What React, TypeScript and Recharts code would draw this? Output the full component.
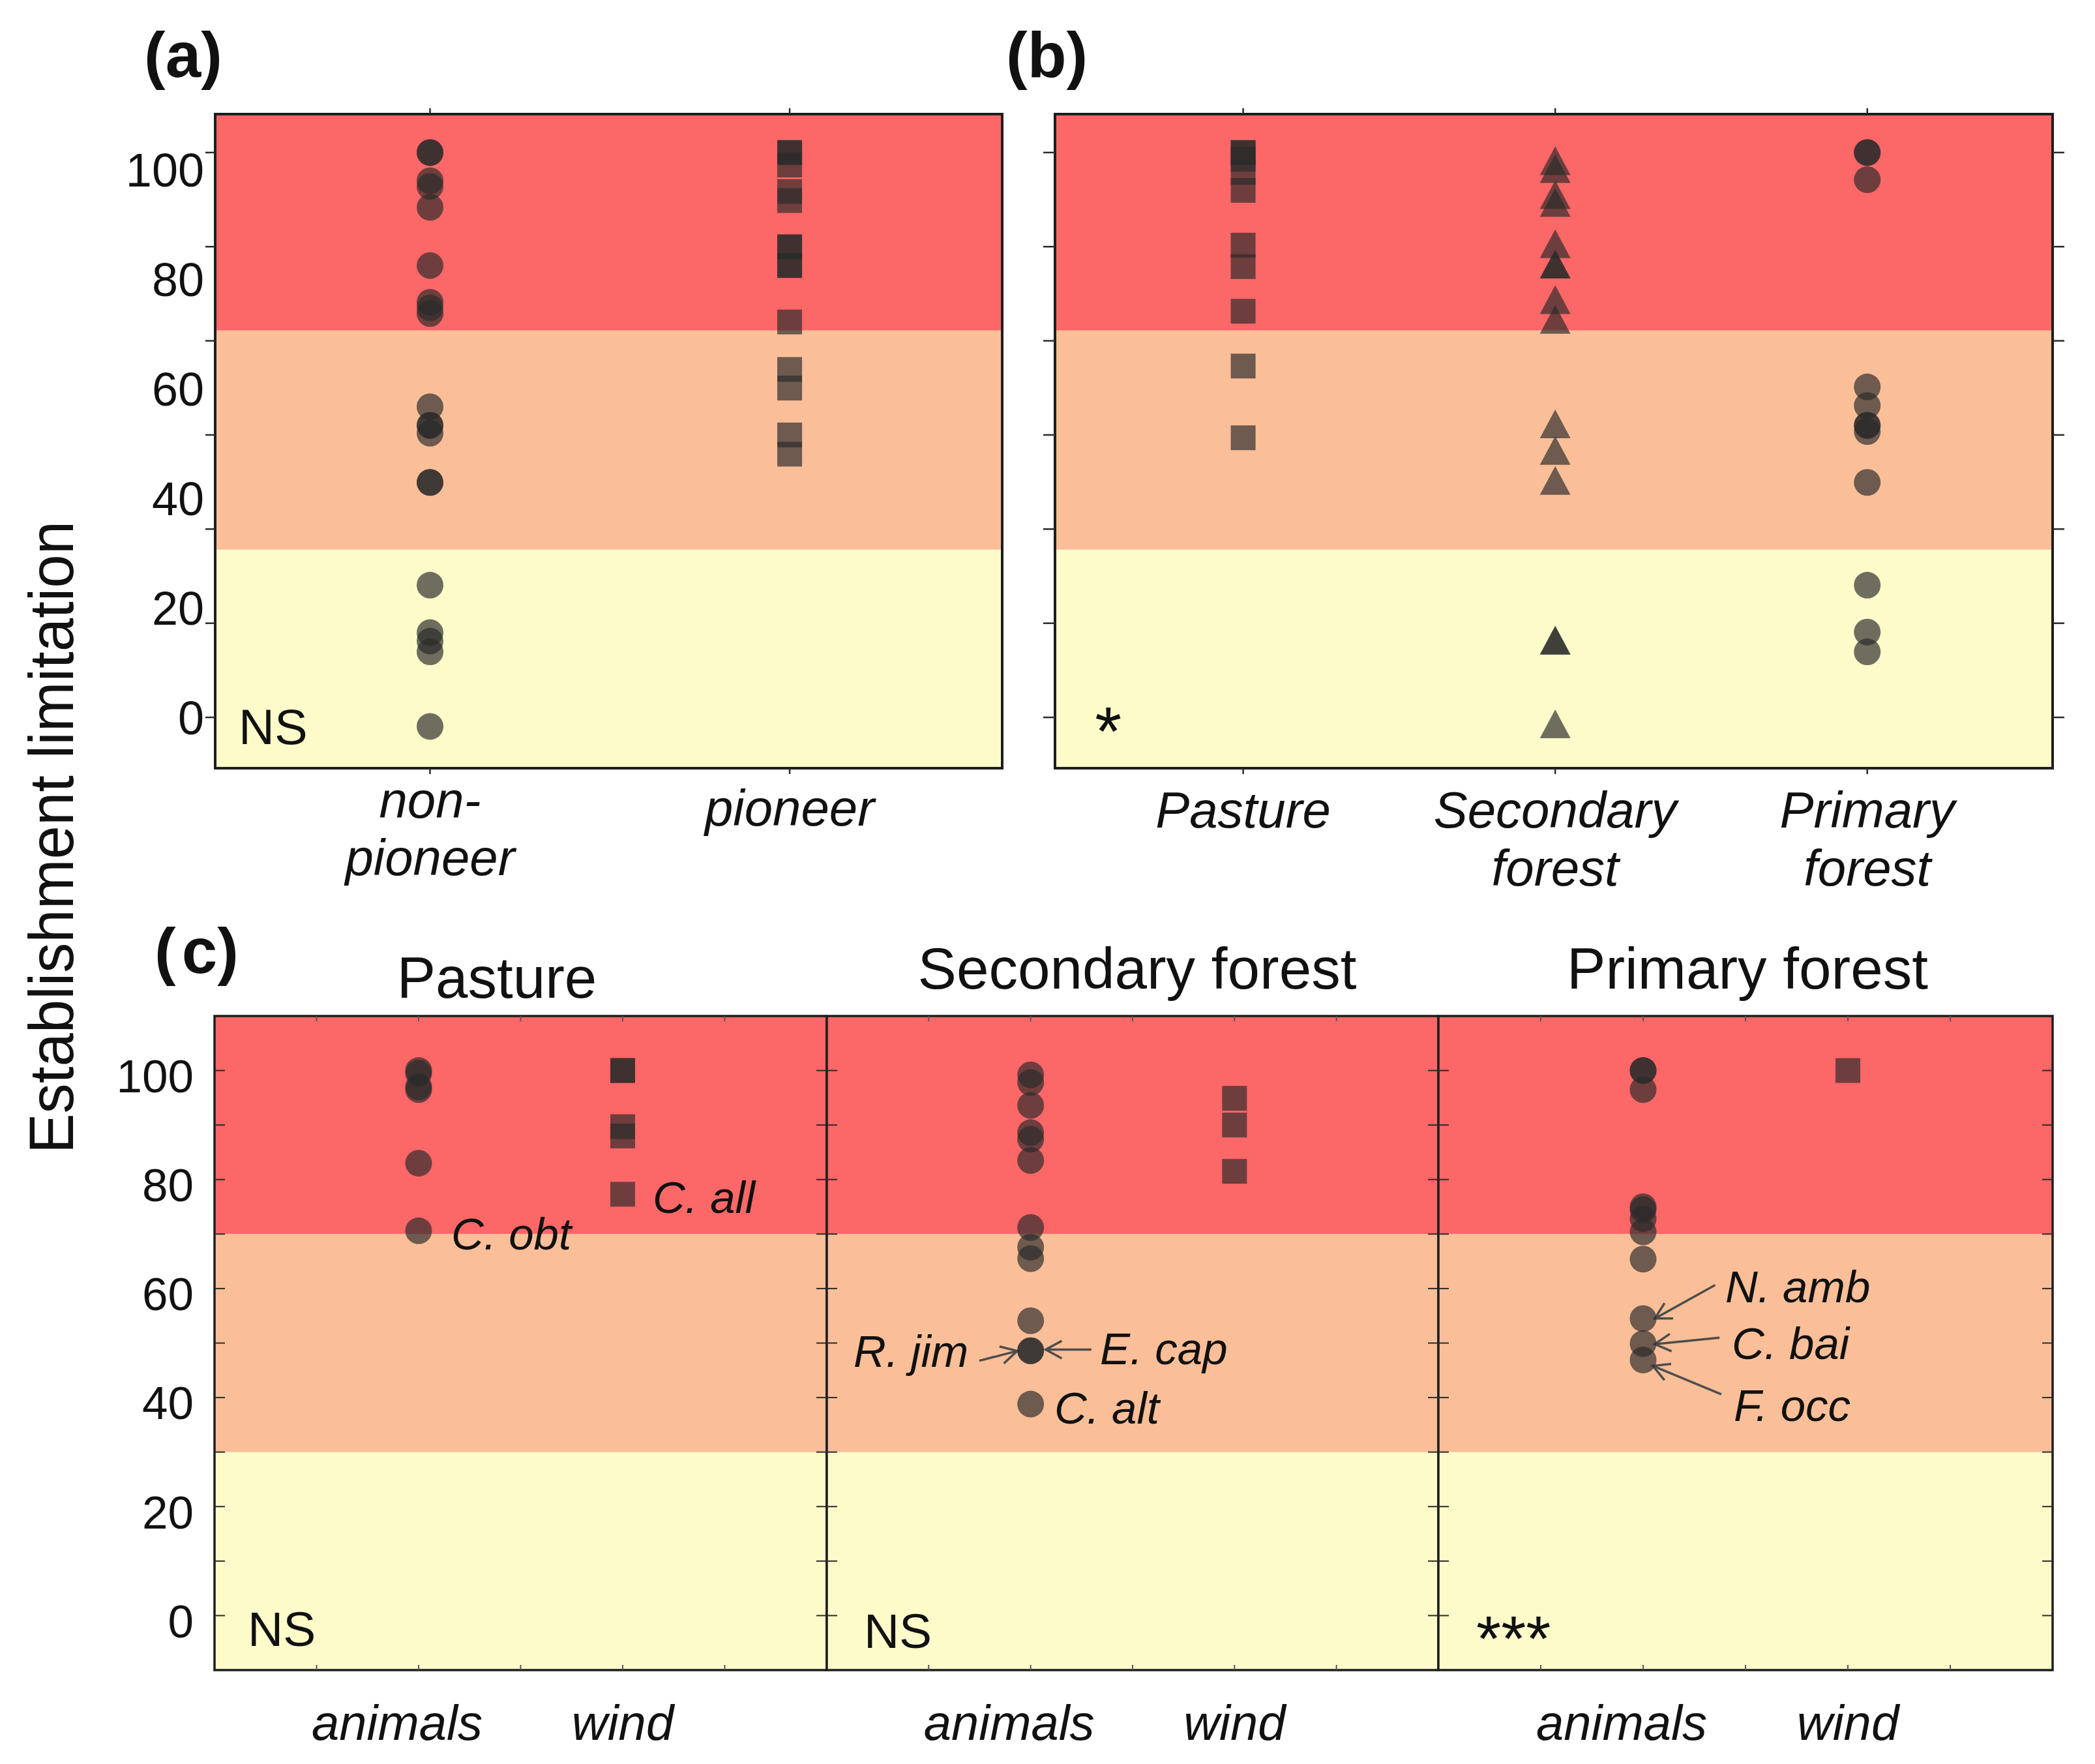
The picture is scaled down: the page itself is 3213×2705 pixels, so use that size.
import React from 'react';
import { ScatterChart, Scatter, XAxis, YAxis, ReferenceArea, ReferenceLine, ReferenceDot } from 'recharts';

const FONT = '"Liberation Sans", Arial, Helvetica, sans-serif';
const RED = '#FC6767';
const ORANGE = '#FABF98';
const YELLOW = '#FEFBCB';
const MARK = '#2b2b2b';
const MARK_OPACITY = 0.68;
const TEXT = '#111111';

// ---------- Panel (a) ----------
const aCategoryLines = [['non-', 'pioneer'], ['pioneer']];
const aNonPioneer = [100, 100, 95, 94, 90.3, 80, 73.5, 72.5, 71.5, 55, 51.7, 51.7, 50.3, 41.6, 41.6, 23.4, 15, 13.5, 11.6, -1.6];
const aPioneer = [100, 100, 97.8, 93.1, 91.5, 83.3, 83.3, 80, 80, 70, 61.6, 58.3, 50, 46.6];

// ---------- Panel (b) ----------
const bCategoryLines = [['Pasture'], ['Secondary', 'forest'], ['Primary', 'forest']];
const bPasture = [100, 100, 98.8, 96.5, 93.3, 83.6, 79.8, 71.9, 62.2, 49.5];
const bSecondary = [97.7, 96.3, 91.7, 90.3, 83, 79.4, 79.4, 73.1, 69.6, 51.1, 46.4, 41.1, 12.8, 12.8, -2];
const bPrimary = [100, 100, 95.2, 58.5, 55.2, 51.7, 51.7, 50.6, 41.6, 23.4, 15.1, 11.6];

// ---------- Panel (c) ----------
const cFacets = ['Pasture', 'Secondary forest', 'Primary forest'];
const cDispersal = ['animals', 'wind'];
const cPastureAnimals = [100, 99.5, 97, 96.5, 83, 70.6];
const cPastureWind = [100, 100, 89.7, 88, 77.3];
const cSecondaryAnimals = [99.2, 97.8, 93.6, 88.6, 87.4, 83.5, 71.2, 67.6, 65.5, 54.1, 48.6, 48.6, 38.8];
const cSecondaryWind = [94.9, 90, 81.5];
const cPrimaryAnimals = [100, 100, 96.5, 75, 74.5, 72.8, 70.4, 65.4, 54.5, 49.9, 46.9];
const cPrimaryWind = [100];

// ---------- ticks / bands / texts ----------
const yTickLabels = [0, 20, 40, 60, 80, 100];
const abLabelShift = 0.97;
const abTickMarks = [0, 100 / 6, 200 / 6, 50, 400 / 6, 500 / 6, 100];
const cTickMarks = [0, 10, 20, 30, 40, 50, 60, 70, 80, 90, 100];
const cXTickMarks = [0.5, 1, 1.5, 2, 2.5];
const abBands = [29.7, 68.5];
const cBands = [30, 70];
const abYDomain: [number, number] = [-9.0, 106.8];
const cYDomain: [number, number] = [-10, 110];

const sigA = { text: 'NS', x: 0.468, y: -4.7, size: 76 };
const sigB = { text: '*', x: 0.525, y: -6.7, size: 105 };
const sigC = [
  { text: 'NS', x: 0.163, y: -5.6, size: 75 },
  { text: 'NS', x: 0.182, y: -5.9, size: 75 },
  { text: '***', x: 0.185, y: -8.3, size: 98 },
];

const cSpeciesLabels = [
  [
    { text: 'C. obt', x: 1.16, y: 67.2 },
    { text: 'C. all', x: 2.147, y: 73.9 },
  ],
  [
    { text: 'R. jim', x: 0.131, y: 45.6 },
    { text: 'E. cap', x: 1.34, y: 46.1 },
    { text: 'C. alt', x: 1.116, y: 35.2 },
  ],
  [
    { text: 'N. amb', x: 1.401, y: 57.5 },
    { text: 'C. bai', x: 1.433, y: 47.1 },
    { text: 'F. occ', x: 1.443, y: 35.7 },
  ],
];
const cArrows = [
  [],
  [
    { x1: 0.748, y1: 46.75, x2: 0.934, y2: 48.55 },
    { x1: 1.298, y1: 48.8, x2: 1.074, y2: 48.8 },
  ],
  [
    { x1: 1.352, y1: 60.65, x2: 1.057, y2: 54.5 },
    { x1: 1.373, y1: 51.0, x2: 1.057, y2: 49.8 },
    { x1: 1.382, y1: 40.6, x2: 1.048, y2: 45.8 },
  ],
];

const near = (a: number, b: number) => Math.abs(a - b) < 1e-6;

// ---------- marker shapes ----------
const circleShape = (p: any) => (
  <circle cx={p.cx} cy={p.cy} r={20.5} fill={MARK} fillOpacity={MARK_OPACITY} />
);
const squareShape = (p: any) => (
  <rect x={p.cx - 19} y={p.cy - 19} width={38} height={38} fill={MARK} fillOpacity={MARK_OPACITY} />
);
const triangleShape = (p: any) => {
  const h = 44;
  const b = 47;
  const pts = `${p.cx},${p.cy - (2 * h) / 3} ${p.cx - b / 2},${p.cy + h / 3} ${p.cx + b / 2},${p.cy + h / 3}`;
  return <polygon points={pts} fill={MARK} fillOpacity={MARK_OPACITY} />;
};
const shapes: any = { circle: circleShape, square: squareShape, triangle: triangleShape };

const arrowShape = (p: any) => {
  const { x1, y1, x2, y2 } = p;
  const ang = Math.atan2(y2 - y1, x2 - x1);
  const L = 28;
  const a = 0.5;
  const h1x = x2 - L * Math.cos(ang - a);
  const h1y = y2 - L * Math.sin(ang - a);
  const h2x = x2 - L * Math.cos(ang + a);
  const h2y = y2 - L * Math.sin(ang + a);
  return (
    <g>
      <line x1={x1} y1={y1} x2={x2} y2={y2} stroke="#4d4d4d" strokeWidth={3.5} />
      <polyline points={`${h1x},${h1y} ${x2},${y2} ${h2x},${h2y}`} fill="none" stroke="#4d4d4d" strokeWidth={3.5} />
    </g>
  );
};

type Rect = { x: number; y: number; w: number; h: number };

const X_AXIS_H = 2;

function Panel(props: any) {
  const { box, plot, xDomain, yDomain, bands, series, xTicks, xTick, yTicks, yTick, texts, arrows, borderWidth } = props;
  const margin = {
    top: plot.y - box.y,
    left: 0,
    right: box.x + box.w - plot.x - plot.w,
    bottom: box.y + box.h - plot.y - plot.h - X_AXIS_H,
  };
  return (
    <div style={{ position: 'absolute', left: box.x, top: box.y, width: box.w, height: box.h }}>
      <ScatterChart width={box.w} height={box.h} margin={margin}>
        <XAxis
          type="number"
          dataKey="x"
          domain={xDomain}
          allowDataOverflow
          ticks={xTicks}
          interval={0}
          tickSize={0}
          tickMargin={0}
          height={X_AXIS_H}
          axisLine={false}
          tickLine={false}
          tick={xTick}
        />
        <YAxis
          type="number"
          dataKey="y"
          domain={yDomain}
          allowDataOverflow
          ticks={yTicks}
          interval={0}
          tickSize={0}
          tickMargin={0}
          width={plot.x - box.x}
          axisLine={false}
          tickLine={false}
          tick={yTick}
        />
        <ReferenceArea y1={yDomain[0]} y2={bands[0]} fill={YELLOW} fillOpacity={1} stroke="none" />
        <ReferenceArea y1={bands[0]} y2={bands[1]} fill={ORANGE} fillOpacity={1} stroke="none" />
        <ReferenceArea y1={bands[1]} y2={yDomain[1]} fill={RED} fillOpacity={1} stroke="none" />
        {series.map((s: any, i: number) => (
          <Scatter
            key={i}
            data={s.values.map((v: number) => ({ x: s.xPos, y: v }))}
            shape={shapes[s.shape]}
            isAnimationActive={false}
          />
        ))}
        {(arrows || []).map((a: any, i: number) => (
          <ReferenceLine
            key={'ar' + i}
            segment={[
              { x: a.x1, y: a.y1 },
              { x: a.x2, y: a.y2 },
            ]}
            shape={arrowShape}
          />
        ))}
        {(texts || []).map((t: any, i: number) => (
          <ReferenceDot
            key={'tx' + i}
            x={t.x}
            y={t.y}
            r={1}
            shape={(p: any) => (
              <text
                x={p.cx}
                y={p.cy}
                fontFamily={FONT}
                fontSize={t.size}
                fontStyle={t.italic ? 'italic' : 'normal'}
                fill={TEXT}
                textAnchor="start"
              >
                {t.text}
              </text>
            )}
          />
        ))}
        <ReferenceArea
          x1={xDomain[0]}
          x2={xDomain[1]}
          y1={yDomain[0]}
          y2={yDomain[1]}
          fill="none"
          fillOpacity={0}
          stroke="#1e1e1e"
          strokeWidth={borderWidth}
        />
      </ScatterChart>
    </div>
  );
}

// ---------- tick renderers ----------
const TICK = '#2a2a2a';

function makeAbXTick(positions: number[], lines: string[][], plotH: number, offsets1: number[], offsets2: number[]) {
  return (p: any) => {
    const v = p.payload.value;
    const i = positions.findIndex((q) => near(q, v));
    const ls = i >= 0 ? lines[i] : [];
    const offs = ls.length > 1 ? offsets2 : offsets1;
    return (
      <g>
        <line x1={p.x} x2={p.x} y1={p.y} y2={p.y + 9} stroke={TICK} strokeWidth={2.5} />
        <line x1={p.x} x2={p.x} y1={p.y - plotH} y2={p.y - plotH - 9} stroke={TICK} strokeWidth={2.5} />
        {ls.map((t, k) => (
          <text key={k} x={p.x} y={p.y + offs[k]} textAnchor="middle" fontFamily={FONT} fontStyle="italic" fontSize={78} fill={TEXT}>
            {t}
          </text>
        ))}
      </g>
    );
  };
}

function makeAbYTick(withLabels: boolean, leftLen: number, rightLen: number, plotW: number) {
  return (p: any) => {
    const v = p.payload.value;
    const isMark = abTickMarks.some((m) => near(m, v));
    const lab = withLabels ? yTickLabels.find((L) => near(L * abLabelShift, v)) : undefined;
    return (
      <g>
        {isMark && leftLen > 0 && <line x1={p.x - leftLen} x2={p.x} y1={p.y} y2={p.y} stroke={TICK} strokeWidth={2.5} />}
        {isMark && rightLen > 0 && (
          <line x1={p.x + plotW} x2={p.x + plotW + rightLen} y1={p.y} y2={p.y} stroke={TICK} strokeWidth={2.5} />
        )}
        {lab !== undefined && (
          <text x={p.x - 17} y={p.y + 25.8} textAnchor="end" fontFamily={FONT} fontSize={72} fill={TEXT}>
            {String(lab)}
          </text>
        )}
      </g>
    );
  };
}

function makeCXTick(plotH: number, labelDx: number[]) {
  return (p: any) => {
    const v = p.payload.value;
    const idx = near(v, 1) ? 0 : near(v, 2) ? 1 : -1;
    return (
      <g>
        <line x1={p.x} x2={p.x} y1={p.y} y2={p.y - 8} stroke="#555" strokeWidth={2} />
        <line x1={p.x} x2={p.x} y1={p.y - plotH} y2={p.y - plotH + 8} stroke="#555" strokeWidth={2} />
        {idx >= 0 && (
          <text x={p.x + labelDx[idx]} y={p.y + 107} textAnchor="middle" fontFamily={FONT} fontStyle="italic" fontSize={76} fill={TEXT}>
            {cDispersal[idx]}
          </text>
        )}
      </g>
    );
  };
}

function makeCYTick(withLabels: boolean, plotW: number) {
  return (p: any) => {
    const v = p.payload.value;
    const lab = withLabels ? yTickLabels.find((L) => near(L, v)) : undefined;
    return (
      <g>
        <line x1={p.x} x2={p.x + 16} y1={p.y} y2={p.y} stroke={TICK} strokeWidth={2} />
        <line x1={p.x + plotW - 16} x2={p.x + plotW} y1={p.y} y2={p.y} stroke={TICK} strokeWidth={2} />
        {lab !== undefined && (
          <text x={p.x - 32} y={p.y + 33.4} textAnchor="end" fontFamily={FONT} fontSize={71} fill={TEXT}>
            {String(lab)}
          </text>
        )}
      </g>
    );
  };
}

// ---------- geometry ----------
const aPlot: Rect = { x: 330, y: 175, w: 1207, h: 1003 };
const aBox: Rect = { x: 150, y: 120, w: 1420, h: 1260 };
const bPlot: Rect = { x: 1618, y: 175, w: 1530, h: 1003 };
const bBox: Rect = { x: 1570, y: 120, w: 1630, h: 1260 };
const cPlots: Rect[] = [
  { x: 329, y: 1558, w: 939, h: 1003 },
  { x: 1268, y: 1558, w: 938, h: 1003 },
  { x: 2206, y: 1558, w: 942, h: 1003 },
];
const cBoxes: Rect[] = [
  { x: 150, y: 1530, w: 1118, h: 1170 },
  { x: 1258, y: 1530, w: 948, h: 1170 },
  { x: 2196, y: 1530, w: 1004, h: 1170 },
];

const abYTicksA = [...abTickMarks, ...yTickLabels.filter((L) => L !== 0).map((L) => L * abLabelShift)];

export default function App() {
  const cSeries = [
    [
      { xPos: 1, values: cPastureAnimals, shape: 'circle' },
      { xPos: 2, values: cPastureWind, shape: 'square' },
    ],
    [
      { xPos: 1, values: cSecondaryAnimals, shape: 'circle' },
      { xPos: 2, values: cSecondaryWind, shape: 'square' },
    ],
    [
      { xPos: 1, values: cPrimaryAnimals, shape: 'circle' },
      { xPos: 2, values: cPrimaryWind, shape: 'square' },
    ],
  ];
  return (
    <div
      style={{
        position: 'absolute',
        left: 0,
        top: 0,
        width: 3213,
        height: 2705,
        background: '#ffffff',
        overflow: 'hidden',
        fontFamily: FONT,
      }}
    >
      <Panel
        box={aBox}
        plot={aPlot}
        xDomain={[0.4025, 2.591]}
        yDomain={abYDomain}
        bands={abBands}
        series={[
          { xPos: 1, values: aNonPioneer, shape: 'circle' },
          { xPos: 2, values: aPioneer, shape: 'square' },
        ]}
        xTicks={[1, 2]}
        xTick={makeAbXTick([1, 2], aCategoryLines, aPlot.h, [88], [76, 164])}
        yTicks={abYTicksA}
        yTick={makeAbYTick(true, 15, 0, aPlot.w)}
        texts={[sigA]}
        arrows={[]}
        borderWidth={4}
      />
      <Panel
        box={bBox}
        plot={bPlot}
        xDomain={[0.397, 3.594]}
        yDomain={abYDomain}
        bands={abBands}
        series={[
          { xPos: 1, values: bPasture, shape: 'square' },
          { xPos: 2, values: bSecondary, shape: 'triangle' },
          { xPos: 3, values: bPrimary, shape: 'circle' },
        ]}
        xTicks={[1, 2, 3]}
        xTick={makeAbXTick([1, 2, 3], bCategoryLines, bPlot.h, [91], [91, 180])}
        yTicks={abTickMarks}
        yTick={makeAbYTick(false, 18, 18, bPlot.w)}
        texts={[sigB]}
        arrows={[]}
        borderWidth={4}
      />
      {cFacets.map((f, i) => (
        <Panel
          key={f}
          box={cBoxes[i]}
          plot={cPlots[i]}
          xDomain={[0, 3]}
          yDomain={cYDomain}
          bands={cBands}
          series={cSeries[i]}
          xTicks={cXTickMarks}
          xTick={makeCXTick(cPlots[i].h, [-33, 0])}
          yTicks={cTickMarks}
          yTick={makeCYTick(i === 0, cPlots[i].w)}
          texts={[
            sigC[i],
            ...cSpeciesLabels[i].map((t) => ({ ...t, size: 69, italic: true })),
          ]}
          arrows={cArrows[i]}
          borderWidth={3.5}
        />
      ))}
      <svg
        width={3213}
        height={2705}
        style={{ position: 'absolute', left: 0, top: 0, pointerEvents: 'none' }}
      >
        <text x={221} y={118} fontFamily={FONT} fontWeight="bold" fontSize={98} fill={TEXT}>
          (a)
        </text>
        <text x={1543} y={118} fontFamily={FONT} fontWeight="bold" fontSize={98} fill={TEXT}>
          (b)
        </text>
        <text x={237} y={1492} fontFamily={FONT} fontWeight="bold" fontSize={98} fill={TEXT}>
          (<tspan dx={9}>c)</tspan>
        </text>
        <text
          x={112}
          y={1284}
          transform="rotate(-90 112 1284)"
          textAnchor="middle"
          fontFamily={FONT}
          fontSize={97}
          textLength={970}
          lengthAdjust="spacingAndGlyphs"
          fill={TEXT}
        >
          Establishment limitation
        </text>
        <text x={762} y={1530} textAnchor="middle" fontFamily={FONT} fontSize={89} fill={TEXT}>
          {cFacets[0]}
        </text>
        <text x={1744} y={1516} textAnchor="middle" fontFamily={FONT} fontSize={89} fill={TEXT}>
          {cFacets[1]}
        </text>
        <text x={2680} y={1516} textAnchor="middle" fontFamily={FONT} fontSize={89} fill={TEXT}>
          {cFacets[2]}
        </text>
      </svg>
    </div>
  );
}
